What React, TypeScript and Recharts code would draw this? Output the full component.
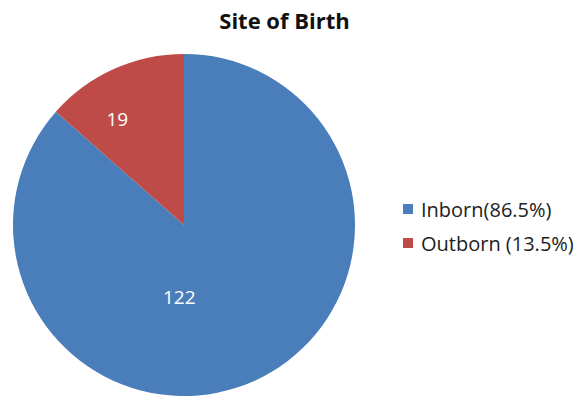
import React from "react";
import { PieChart, Pie, Cell, Legend } from "recharts";

const categories = ["Inborn(86.5%)", "Outborn (13.5%)"];
const values = [122, 19];
const colors = ["#4A7EBB", "#BE4B48"];

const data = categories.map((name, i) => ({ name, value: values[i] }));

const RADIAN = Math.PI / 180;

const renderLabel = (props: any) => {
  const { cx, cy, midAngle, outerRadius, index, value } = props;
  let r: number, a: number;
  if (index === 1) {
    r = outerRadius * 0.73;
    a = midAngle + 8;
  } else {
    r = outerRadius * 0.42;
    a = midAngle - 28;
  }
  const x = cx + r * Math.cos(-a * RADIAN);
  const y = cy + r * Math.sin(-a * RADIAN);
  return (
    <text
      x={x}
      y={y}
      fill="#ffffff"
      textAnchor="middle"
      dominantBaseline="central"
      fontFamily="'Open Sans', sans-serif"
      fontSize={19}
    >
      {value}
    </text>
  );
};

const renderLegend = () => (
  <div style={{ fontFamily: "'Open Sans', sans-serif", fontSize: 20, color: "#222" }}>
    {data.map((d, i) => (
      <div key={d.name} style={{ display: "flex", alignItems: "center", height: 34 }}>
        <span
          style={{
            display: "inline-block",
            width: 10,
            height: 10,
            background: colors[i],
            marginRight: 8,
          }}
        />
        <span>{d.name}</span>
      </div>
    ))}
  </div>
);

export default function App() {
  return (
    <div style={{ position: "fixed", left: 0, top: 0, width: 585, height: 401, background: "#fff" }}>
      <div
        style={{
          position: "absolute",
          left: 0,
          width: 585,
          top: 5,
          textAlign: "center",
          fontFamily: "'Open Sans', sans-serif",
          fontWeight: 700,
          fontSize: 22,
          color: "#111",
        }}
      >
        <span style={{ position: "relative", left: -8 }}>Site of Birth</span>
      </div>
      <PieChart width={585} height={401} style={{ position: "absolute", left: 0, top: 0 }}>
        <Pie
          data={data}
          dataKey="value"
          nameKey="name"
          cx={179}
          cy={220}
          outerRadius={171}
          startAngle={90}
          endAngle={-270}
          stroke="none"
          label={renderLabel}
          labelLine={false}
          isAnimationActive={false}
        >
          {data.map((d, i) => (
            <Cell key={d.name} fill={colors[i]} />
          ))}
        </Pie>
        <Legend
          content={renderLegend}
          layout="vertical"
          wrapperStyle={{ position: "absolute", left: 403, top: 192, width: 182 }}
        />
      </PieChart>
    </div>
  );
}
